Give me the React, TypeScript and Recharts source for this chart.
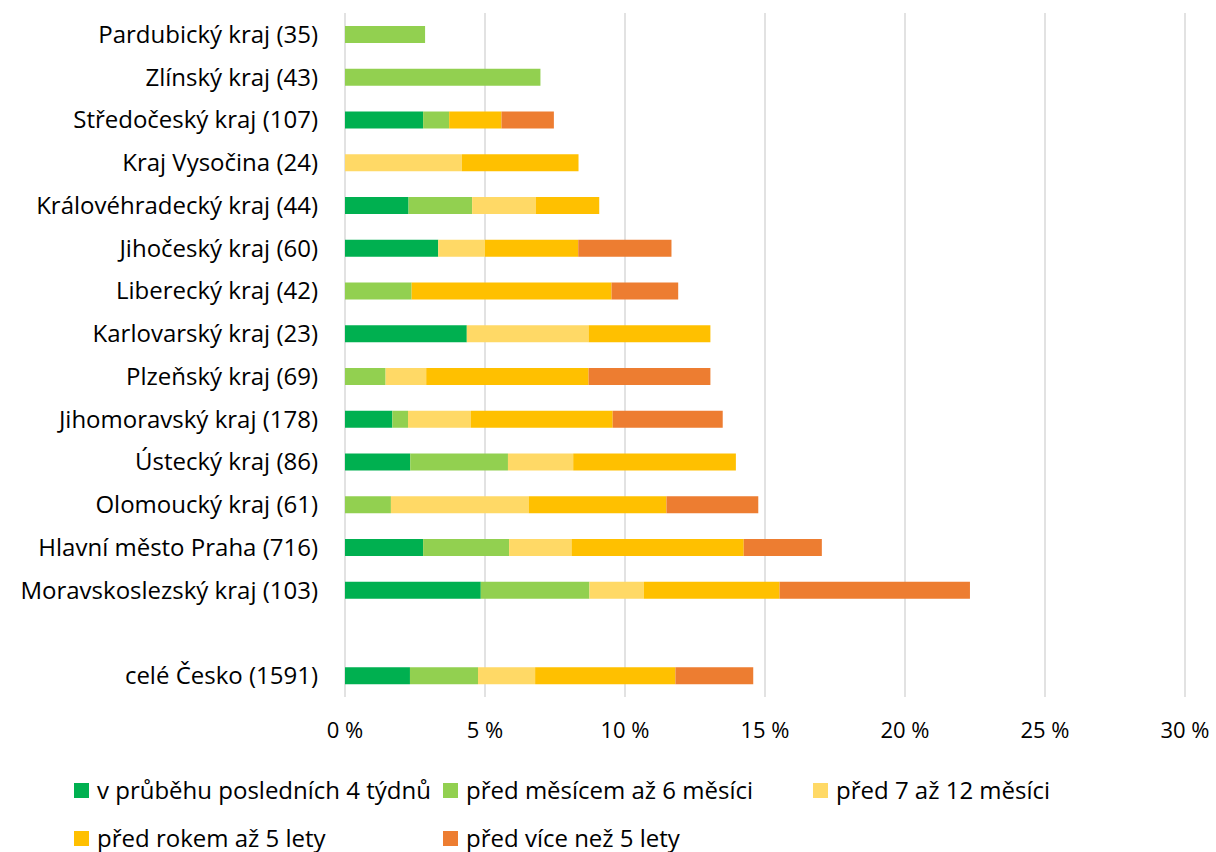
import React from "react";
import {
  BarChart,
  Bar,
  XAxis,
  YAxis,
  CartesianGrid,
  Legend,
} from "recharts";

const categories = [
  "Pardubický kraj (35)",
  "Zlínský kraj (43)",
  "Středočeský kraj (107)",
  "Kraj Vysočina (24)",
  "Královéhradecký kraj (44)",
  "Jihočeský kraj (60)",
  "Liberecký kraj (42)",
  "Karlovarský kraj (23)",
  "Plzeňský kraj (69)",
  "Jihomoravský kraj (178)",
  "Ústecký kraj (86)",
  "Olomoucký kraj (61)",
  "Hlavní město Praha (716)",
  "Moravskoslezský kraj (103)",
  " ",
  "celé Česko (1591)",
];

// shares in %, one value per category above
const lastWeeks = [0, 0, 2.79, 0, 2.27, 3.33, 0, 4.35, 0, 1.69, 2.33, 0, 2.79, 4.85, 0, 2.32];
const upTo6Months = [2.86, 6.98, 0.93, 0, 2.27, 0, 2.38, 0, 1.45, 0.56, 3.49, 1.64, 3.07, 3.88, 0, 2.43];
const months7to12 = [0, 0, 0, 4.17, 2.27, 1.67, 0, 4.35, 1.45, 2.25, 2.33, 4.92, 2.23, 1.94, 0, 2.04];
const years1to5 = [0, 0, 1.87, 4.17, 2.27, 3.33, 7.14, 4.35, 5.8, 5.06, 5.81, 4.92, 6.15, 4.85, 0, 5.01];
const over5Years = [0, 0, 1.87, 0, 0, 3.33, 2.38, 0, 4.35, 3.93, 0, 3.28, 2.79, 6.8, 0, 2.78];

const xTicks = [0, 5, 10, 15, 20, 25, 30];

const SERIES = [
  { key: "a", name: "v průběhu posledních 4 týdnů", color: "#00B050", values: lastWeeks },
  { key: "b", name: "před měsícem až 6 měsíci", color: "#92D050", values: upTo6Months },
  { key: "c", name: "před 7 až 12 měsíci", color: "#FFD966", values: months7to12 },
  { key: "d", name: "před rokem až 5 lety", color: "#FFC000", values: years1to5 },
  { key: "e", name: "před více než 5 lety", color: "#ED7D31", values: over5Years },
];

const data = categories.map((name, i) => {
  const row: Record<string, string | number> = { name };
  SERIES.forEach((s) => {
    row[s.key] = s.values[i];
  });
  return row;
});

const FONT = "'Open Sans', Lato, sans-serif";

const LegendGrid = () => (
  <div
    style={{
      display: "grid",
      gridTemplateColumns: "369px 370px 370px",
      rowGap: 22,
      fontFamily: FONT,
      fontSize: 24,
      color: "#000",
      lineHeight: "26px",
    }}
  >
    {SERIES.map((s) => (
      <div key={s.key} style={{ display: "flex", alignItems: "center", whiteSpace: "nowrap" }}>
        <span
          style={{
            display: "inline-block",
            width: 15,
            height: 15,
            background: s.color,
            marginRight: 8,
          }}
        />
        {s.name}
      </div>
    ))}
  </div>
);

export default function App() {
  return (
    <div style={{ position: "absolute", left: 0, top: 0, background: "#fff" }}>
      <BarChart
        width={1216}
        height={852}
        data={data}
        layout="vertical"
        margin={{ top: 13, right: 31, left: 0, bottom: 105 }}
        barSize={17}
      >
        <CartesianGrid horizontal={false} stroke="#d9d9d9" strokeWidth={1.5} />
        <XAxis
          type="number"
          domain={[0, 30]}
          ticks={xTicks}
          tickFormatter={(v) => `${v} %`}
          axisLine={false}
          tickLine={false}
          tickMargin={19}
          height={50}
          tick={{ fill: "#000", fontSize: 22, fontFamily: FONT }}
        />
        <YAxis
          type="category"
          dataKey="name"
          width={345}
          axisLine={false}
          tickLine={false}
          tickMargin={21}
          interval={0}
          tick={{ fill: "#000", fontSize: 24, fontFamily: FONT }}
        />
        <Legend
          verticalAlign="middle"
          align="center"
          content={() => <LegendGrid />}
          wrapperStyle={{ top: 777, left: 74, width: 1140 }}
        />
        {SERIES.map((s) => (
          <Bar
            key={s.key}
            dataKey={s.key}
            name={s.name}
            stackId="stack"
            fill={s.color}
            isAnimationActive={false}
          />
        ))}
      </BarChart>
    </div>
  );
}
